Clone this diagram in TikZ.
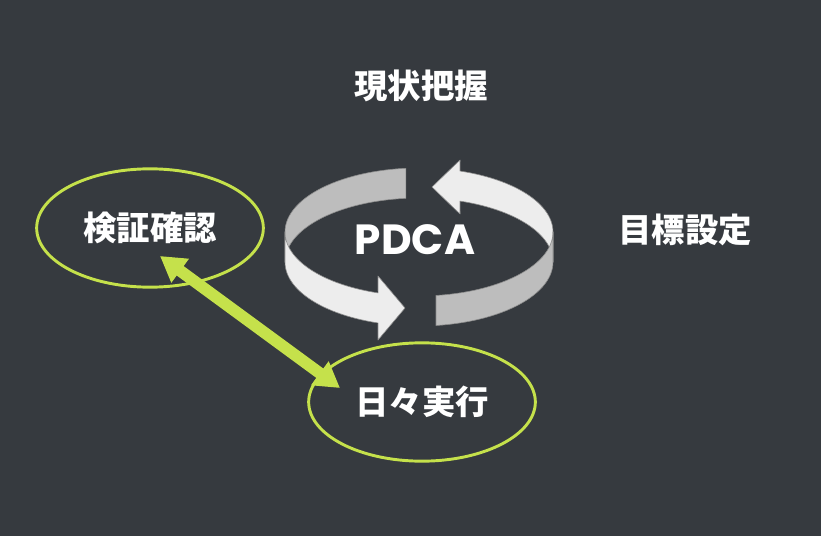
\documentclass[tikz,border=0pt]{standalone}
\usepackage{fontspec}
\usetikzlibrary{shapes.geometric,arrows.meta,calc}
\newfontfamily\jpfont{Noto Sans CJK JP}
\newfontfamily\pdcafont{Poppins}
\definecolor{bgcol}{HTML}{363A3F}
\definecolor{limecol}{HTML}{C5E14B}
\definecolor{ribbonlight}{HTML}{EDEDED}
\definecolor{ribbondark}{HTML}{BDBDBD}
\definecolor{ribbonedge}{HTML}{8C8C8C}

\begin{document}
\begin{tikzpicture}[x=0.03cm,y=-0.03cm,>={Triangle[length=7.5mm,width=8.4mm]}]
    \tikzstyle{every node}=[font=\jpfont\bfseries\fontsize{28.5}{32}\selectfont,text=white,inner sep=0pt];
    \tikzstyle{goal}=[ellipse,draw=limecol,line width=2.5pt,minimum width=6.8cm,minimum height=3.55cm];
    \tikzstyle{ribbon}=[draw=ribbonedge,line width=0.5pt,line join=round];
    \tikzstyle{both}=[<->,draw=limecol,line width=10pt];

    \fill[bgcol] (0,0) rectangle (821,536);
    \useasboundingbox (0,0) rectangle (821,536);

    % back half of the cycle
    \path[ribbon,fill=ribbondark] plot[domain=95.6:180,samples=30] ({419+134*cos(\x)},{232-64*sin(\x)})
        -- plot[domain=180:95.6,samples=30] ({419+134*cos(\x)},{262-64*sin(\x)}) -- cycle;
    \path[ribbon,fill=ribbonlight] plot[domain=0:72.2,samples=30] ({419+134*cos(\x)},{232-64*sin(\x)})
        -- (460,160) -- (432,187) -- (460,214)
        -- plot[domain=72.2:0,samples=30] ({419+134*cos(\x)},{262-64*sin(\x)}) -- cycle;

    % front half of the cycle
    \path[ribbon,fill=ribbonlight] plot[domain=180:252.2,samples=30] ({419+134*cos(\x)},{232-64*sin(\x)})
        -- (378,276) -- (405,308) -- (378,340)
        -- plot[domain=252.2:180,samples=30] ({419+134*cos(\x)},{262-64*sin(\x)}) -- cycle;
    \path[ribbon,fill=ribbondark] plot[domain=277.3:360,samples=30] ({419+134*cos(\x)},{232-64*sin(\x)})
        -- plot[domain=360:277.3,samples=30] ({419+134*cos(\x)},{262-64*sin(\x)}) -- cycle;

    \node (pdca) at (415,240) {\pdcafont\bfseries\fontsize{36}{42}\selectfont PDCA};
    \node (genjo) at (421,86) {現状把握};
    \node (mokuhyo) at (685,230) {目標設定};
    \node[goal] (kensho) at (150,228) {検証確認};
    \node[goal] (nichi) at (422,402) {日々実行};

    \draw[both] ($(kensho.center)+(10,28)$) -- ($(nichi.center)+(-82,-14)$);
\end{tikzpicture}
\end{document}
